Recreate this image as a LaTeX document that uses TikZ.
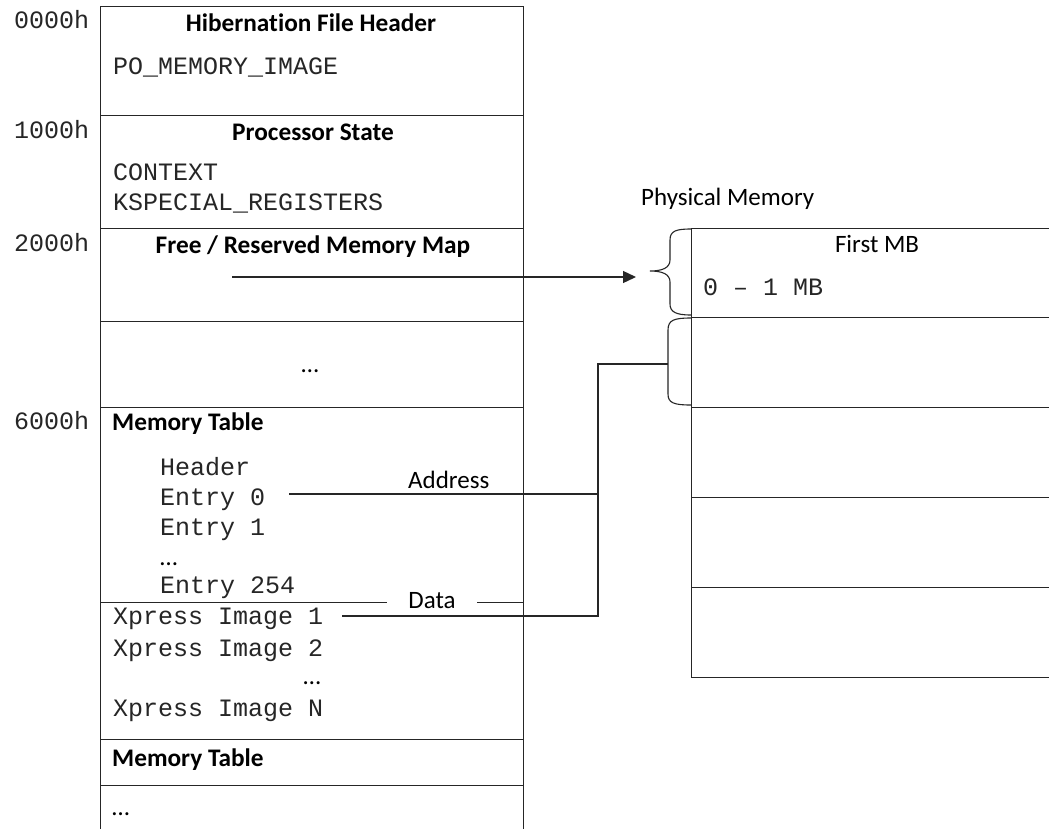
\documentclass[tikz,border=0pt]{standalone}
\usepackage{fontspec}
\setmainfont{Carlito}[Ligatures=NoCommon]
\newfontfamily\monof{Liberation Mono}
\usetikzlibrary{arrows.meta}
\begin{document}
\begin{tikzpicture}[x=1pt,y=-1pt,
  ln/.style={line width=1.3pt, draw=black!85},
  sec/.style={ln, rectangle, inner sep=0pt, anchor=north west, minimum width=423pt},
  pmbox/.style={ln, rectangle, inner sep=0pt, anchor=north west, minimum width=420pt, minimum height=90pt},
  lbl/.style={inner sep=0pt, anchor=base west},
  mono/.style={lbl, text=black!85, font=\monof\fontsize{25}{30}\selectfont},
  bold/.style={lbl, font=\bfseries\fontsize{25.3}{30}\selectfont},
  reg/.style={lbl, font=\fontsize{25}{30}\selectfont}]
\useasboundingbox (0,0) rectangle (1049,828);
\clip (0,0) rectangle (1049,828);
\fill[white] (0,0) rectangle (1049,828);
% left column
\node[sec, minimum height=109pt] (hdr)  at (100,6)   {};
\node[sec, minimum height=113pt] (proc) at (100,115) {};
\node[sec, minimum height=93pt]  (fmap) at (100,228) {};
\node[sec, minimum height=86pt]  (gap)  at (100,321) {};
\node[sec, minimum height=195pt] (mtab) at (100,407) {};
\node[sec, minimum height=137pt] (xpr)  at (100,602) {};
\node[sec, minimum height=46pt]  (mtabb) at (100,739) {};
\node[sec, minimum height=80pt]  (rest) at (100,785) {};
% offsets
\node[mono] (o0) at (14,28)  {0000h};
\node[mono] (o1) at (14,138) {1000h};
\node[mono] (o2) at (14,251) {2000h};
\node[mono] (o6) at (14,429) {6000h};
% section texts
\node[bold, anchor=base] (t1) at (311,31) {Hibernation File Header};
\node[mono] (t1a) at (113,74) {PO\_MEMORY\_IMAGE};
\node[bold, anchor=base] (t2) at (313,140) {Processor State};
\node[mono] (t2a) at (113,180) {CONTEXT};
\node[mono] (t2b) at (113,210) {KSPECIAL\_REGISTERS};
\node[bold, anchor=base] (t3) at (313,253) {Free / Reserved Memory Map};
\node[reg, anchor=base] (t4) at (310,372) {…};
\node[bold] (t5) at (112,430) {Memory Table};
\node[mono] (hd) at (160,475) {Header};
\node[mono] (e0) at (160,505) {Entry 0};
\node[mono] (e1) at (160,535) {Entry 1};
\node[reg] (ed) at (160,565) {…};
\node[mono] (e254) at (160,593) {Entry 254};
\node[mono] (x1) at (113,624) {Xpress Image 1};
\node[mono] (x2) at (113,656) {Xpress Image 2};
\node[reg, anchor=base] (xd) at (312,684) {…};
\node[mono] (xn) at (113,716) {Xpress Image N};
\node[bold] (t7) at (112,766) {Memory Table};
\node[reg] (t8) at (112,815) {…};
% physical memory
\node[reg] (pmt) at (641,205) {Physical Memory};
\node[pmbox, minimum height=89pt] (pm1) at (691,228) {};
\node[pmbox] (pm2) at (691,317) {};
\node[pmbox] (pm3) at (691,407) {};
\node[pmbox] (pm4) at (691,497) {};
\node[pmbox] (pm5) at (691,587) {};
\node[reg, anchor=base] (fmb) at (877,252) {First MB};
\node[mono] (rng) at (703,295) {0 – 1 MB};
% braces
\coordinate (b1) at (650,271);
\draw[ln, line width=1.1pt] (691,229) .. controls (676,229) and (670,231) .. (670,240) -- (670,260)
  .. controls (670,268) and (662,271) .. (b1) .. controls (662,271) and (670,274) .. (670,282)
  -- (670,304) .. controls (670,312) and (676,315) .. (691,315);
\coordinate (b2) at (668,364);
\draw[ln, line width=1.1pt] (691,318) .. controls (674,318) and (668,320) .. (668,330) -- (b2)
  -- (668,394) .. controls (668,403) and (674,405) .. (691,405);
% connectors
\coordinate (fmsrc) at (232,277);
\coordinate (fmtip) at (636,277);
\draw[ln, -{Triangle[length=13pt,width=12pt]}] (fmsrc) -- (fmtip);
\coordinate (adr) at (289,494);
\coordinate (trunkA) at (598,494);
\coordinate (xsrc) at (342,616);
\coordinate (trunkX) at (598,616);
\draw[ln] (adr) -- (trunkA);
\draw[ln] (xsrc) -- (trunkX) -- (trunkX |- b2) -- (b2);
\node[reg] (addr) at (408,488) {Address};
\node[reg, anchor=center, fill=white, inner xsep=21pt, inner ysep=2pt] (data) at (432,601) {Data};
\end{tikzpicture}
\end{document}
